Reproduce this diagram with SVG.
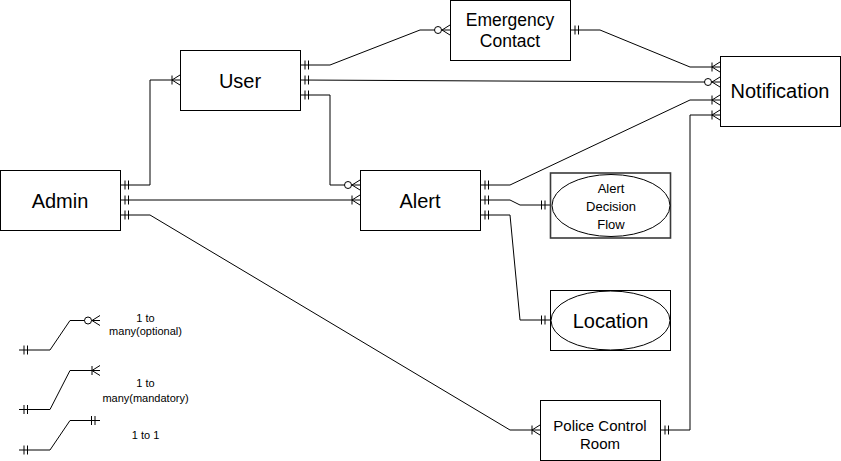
<svg xmlns="http://www.w3.org/2000/svg" width="841" height="461" viewBox="0 0 841 461">
<style>
.ent{fill:#fff;stroke:#000;stroke-width:1}
.lbl{font-family:"Liberation Sans",Arial,Helvetica,sans-serif;fill:#000;text-anchor:middle}
.conn path{fill:none;stroke:#000;stroke-width:1}
.mk{fill:none;stroke:#000;stroke-width:1}
</style>
<defs>
<marker id="one" markerUnits="userSpaceOnUse" viewBox="-20 -8 22 16" refX="0" refY="0" markerWidth="22" markerHeight="16" orient="auto-start-reverse" overflow="visible">
<path class="mk" d="M-5,-4.5V4.5M-8.5,-4.5V4.5"/>
</marker>
<marker id="many" markerUnits="userSpaceOnUse" viewBox="-20 -8 22 16" refX="0" refY="0" markerWidth="22" markerHeight="16" orient="auto-start-reverse" overflow="visible">
<path class="mk" d="M-8,0L0,-5M-8,0L0,5M-8,-4.5V4.5"/>
</marker>
<marker id="zmany" markerUnits="userSpaceOnUse" viewBox="-20 -8 22 16" refX="0" refY="0" markerWidth="22" markerHeight="16" orient="auto-start-reverse" overflow="visible">
<path class="mk" d="M-8,0L0,-5M-8,0L0,5"/>
<circle cx="-12" cy="0" r="3.5" fill="#fff" stroke="#000" stroke-width="1"/>
</marker>
</defs>
<rect width="841" height="461" fill="#fff"/>

<g class="conn" id="connectors">
<path d="M120,185H150V80H180" marker-start="url(#one)" marker-end="url(#many)"/>
<path d="M120,200H360" marker-start="url(#one)" marker-end="url(#many)"/>
<path d="M120,215H150L510,430H540" marker-start="url(#one)" marker-end="url(#many)"/>
<path d="M300,65H330L420,30H450" marker-start="url(#one)" marker-end="url(#zmany)"/>
<path d="M300,80L690,82H720" marker-start="url(#one)" marker-end="url(#zmany)"/>
<path d="M300,95H330V185H360" marker-start="url(#one)" marker-end="url(#zmany)"/>
<path d="M570,30H600L690,67H720" marker-start="url(#one)" marker-end="url(#many)"/>
<path d="M480,185H510L690,100H720" marker-start="url(#one)" marker-end="url(#many)"/>
<path d="M480,200H510L520,205H550" marker-start="url(#one)" marker-end="url(#one)"/>
<path d="M480,215H510L520,320H550" marker-start="url(#one)" marker-end="url(#one)"/>
<path d="M660,430H690V115H720" marker-start="url(#one)" marker-end="url(#many)"/>
</g>

<g id="admin"><rect class="ent" x="0.5" y="170.5" width="120" height="60"/><text class="lbl" x="60" y="207.5" font-size="20">Admin</text></g>
<g id="user"><rect class="ent" x="180.5" y="50.5" width="120" height="60"/><text class="lbl" x="240" y="87.5" font-size="20">User</text></g>
<g id="emergency-contact"><rect class="ent" x="450.5" y="0.5" width="120" height="60"/><text class="lbl" x="510" y="26" font-size="17.5">Emergency</text><text class="lbl" x="510" y="46.5" font-size="17.5">Contact</text></g>
<g id="notification"><rect class="ent" x="720.5" y="56.5" width="120" height="70"/><text class="lbl" x="780" y="98" font-size="20">Notification</text></g>
<g id="alert"><rect class="ent" x="360.5" y="170.5" width="120" height="60"/><text class="lbl" x="420" y="207.5" font-size="20">Alert</text></g>
<g id="alert-decision-flow"><rect x="550.5" y="173" width="120" height="65" fill="#fff" stroke="#3a3a3a" stroke-width="1.6"/><ellipse class="ent" cx="611" cy="205.5" rx="59" ry="31"/><text class="lbl" x="611" y="193" font-size="13">Alert</text><text class="lbl" x="611" y="210.5" font-size="13">Decision</text><text class="lbl" x="611" y="228.5" font-size="13">Flow</text></g>
<g id="location"><rect class="ent" x="550.5" y="290.5" width="120" height="60"/><ellipse class="ent" cx="610.5" cy="320.5" rx="59.5" ry="29.5"/><text class="lbl" x="610.5" y="327.5" font-size="20">Location</text></g>
<g id="police-control-room"><rect class="ent" x="540.5" y="400.5" width="120" height="60"/><text class="lbl" x="600" y="431" font-size="15">Police Control</text><text class="lbl" x="600" y="449" font-size="15">Room</text></g>

<g class="conn" id="legend">
<path d="M19,350H50L70,320.5H100" marker-start="url(#one)" marker-end="url(#zmany)"/>
<path d="M19,409.5H50L70,370.5H100" marker-start="url(#one)" marker-end="url(#many)"/>
<path d="M19,450H50L70,420.5H100" marker-start="url(#one)" marker-end="url(#one)"/>
</g>
<g id="legend-text">
<text class="lbl" x="145.5" y="321.5" font-size="11">1 to</text>
<text class="lbl" x="145.5" y="335" font-size="11">many(optional)</text>
<text class="lbl" x="145.5" y="386.5" font-size="11">1 to</text>
<text class="lbl" x="145.5" y="401.5" font-size="11">many(mandatory)</text>
<text class="lbl" x="145.5" y="438.5" font-size="11">1 to 1</text>
</g>
</svg>
